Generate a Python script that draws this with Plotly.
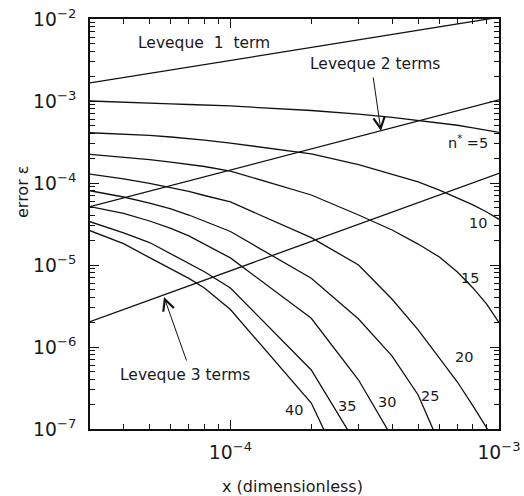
import plotly.graph_objects as go

# ---- data (log-log) ----
x_grid = [3e-5, 4e-5, 5e-5, 6e-5, 7e-5, 8e-5, 1e-4, 2e-4, 3e-4, 4e-4,
          5e-4, 6e-4, 7e-4, 8e-4, 9e-4, 1e-3]

n5 = [1.0e-3, 9.6e-4, 9.3e-4, 9.2e-4, 9.06e-4, 8.9e-4, 8.7e-4, 7.66e-4, 6.93e-4,
      6.3e-4, 5.82e-4, 5.42e-4, 5.06e-4, 4.69e-4, 4.43e-4, 4.15e-4]
n10 = [4.10e-4, 3.96e-4, 3.80e-4, 3.64e-4, 3.49e-4, 3.34e-4, 3.07e-4, 2.26e-4, 1.68e-4,
       1.29e-4, 1.03e-4, 8.2e-5, 6.56e-5, 5.4e-5, 4.43e-5, 3.6e-5]
n15 = [2.24e-4, 2.07e-4, 1.93e-4, 1.80e-4, 1.68e-4, 1.59e-4, 1.40e-4, 7.14e-5, 4.07e-5,
       2.67e-5, 1.80e-5, 1.25e-5, 8.22e-6, 5.25e-6, 3.34e-6, 1.98e-6]
n20 = [1.28e-4, 1.12e-4, 9.87e-5, 8.81e-5, 7.88e-5, 7.04e-5, 5.87e-5, 2.16e-5, 1.0e-5,
       3.82e-6, 1.62e-6, 7.3e-7, 3.74e-7, 1.91e-7, 1.03e-7, 5.9e-8]
n25 = [8.05e-5, 6.75e-5, 5.70e-5, 4.82e-5, 4.07e-5, 3.44e-5, 2.56e-5, 6.89e-6, 2.19e-6,
       7.76e-7, 2.6e-7, 6.6e-8]
n30 = [5.14e-5, 4.25e-5, 3.44e-5, 2.79e-5, 2.26e-5, 1.78e-5, 1.22e-5, 2.24e-6, 3.96e-7,
       7.9e-8]
n35 = [3.37e-5, 2.46e-5, 1.88e-5, 1.37e-5, 1.05e-5, 8.27e-6, 5.24e-6, 5.25e-7, 5.9e-8]
n40 = [2.62e-5, 1.82e-5, 1.23e-5, 8.99e-6, 6.87e-6, 5.25e-6, 2.86e-6, 2.07e-7, 1.25e-8]

curves = [("5", n5), ("10", n10), ("15", n15), ("20", n20),
          ("25", n25), ("30", n30), ("35", n35), ("40", n40)]

lev_x = [3e-5, 1e-3]
lev1 = [1.66e-3, 1.05e-2]
lev2 = [5.14e-5, 1.03e-3]
lev3 = [2.04e-6, 1.31e-4]

# ---- figure ----
W, H = 524, 496
L, R, T, B = 90, 499, 19, 429  # plot area in pixels


def px(xp):
    return (xp - L) / (R - L)


def py(yp):
    return (B - yp) / (B - T)


FONT = "DejaVu Sans, Verdana, sans-serif"
LC = "#111111"
TC = "#1a1a1a"

fig = go.Figure()
for name, vals in curves:
    fig.add_trace(go.Scatter(x=x_grid[:len(vals)], y=vals, mode="lines",
                             line=dict(color=LC, width=1.3), name="n*=" + name,
                             showlegend=False))
for name, vals in [("Leveque 1 term", lev1), ("Leveque 2 terms", lev2),
                   ("Leveque 3 terms", lev3)]:
    fig.add_trace(go.Scatter(x=lev_x, y=vals, mode="lines",
                             line=dict(color=LC, width=1.3), name=name,
                             showlegend=False))

axis_common = dict(
    type="log", showgrid=False, zeroline=False, automargin=False,
    showline=True, linecolor=LC, linewidth=1.5, mirror="ticks",
    ticks="inside", ticklen=9, tickwidth=1, tickcolor=LC,
    dtick=1, exponentformat="power", showexponent="all",
    tickfont=dict(family=FONT, size=15, color=TC),
    minor=dict(dtick="D1", ticks="inside", ticklen=5, tickwidth=1,
               tickcolor=LC, showgrid=False),
)

fig.update_xaxes(range=[-4.5229, -3], ticklabelstandoff=6, **axis_common)
fig.update_yaxes(range=[-7, -2], ticklabelstandoff=9, **axis_common)

ann = []
tf = dict(family=FONT, size=15.5, color=TC)
af = dict(family=FONT, size=16, color=TC)
lf = dict(family=FONT, size=14.5, color=TC)


def text_ann(t, xx, yy, font, **kw):
    d = dict(text=t, xref="paper", yref="paper", x=px(xx), y=py(yy),
             xanchor="center", yanchor="middle", showarrow=False, font=font)
    d.update(kw)
    return d


def arrow_ann(tipx, tipy, tailx, taily):
    return dict(text="", xref="paper", yref="paper", x=px(tipx), y=py(tipy),
                ax=tailx - tipx, ay=taily - tipy, showarrow=True, arrowhead=5,
                arrowsize=2.2, arrowwidth=1, arrowcolor=LC)


NB = "\u00a0"
ann.append(text_ann("Leveque" + NB + " 1" + NB + " term", 204, 43, tf))
ann.append(text_ann("Leveque 2 terms", 375, 64, tf))
ann.append(arrow_ann(381, 131, 373, 76))
ann.append(text_ann("Leveque 3 terms", 185, 375, tf))
ann.append(arrow_ann(164, 297, 187, 362))

labels = [("n<sup>*</sup> =5", 468, 142), ("10", 478, 223), ("15", 470, 278),
          ("20", 464, 357), ("25", 430, 396), ("30", 387, 402),
          ("35", 347, 406), ("40", 294, 410)]
for t, xx, yy in labels:
    ann.append(text_ann(t, xx, yy, lf))

ann.append(text_ann("x (dimensionless)", 292, 487, af))
ann.append(text_ann("error ε", 22, 192, af, textangle=-90))

fig.update_layout(
    width=W, height=H, autosize=False,
    margin=dict(l=L, r=W - R, t=T, b=H - B),
    paper_bgcolor="white", plot_bgcolor="white",
    annotations=ann, showlegend=False,
)

fig.write_html("out.html", config={"displayModeBar": False},
               post_script="document.body.style.margin='0';"
                           "document.body.style.overflow='hidden';")
